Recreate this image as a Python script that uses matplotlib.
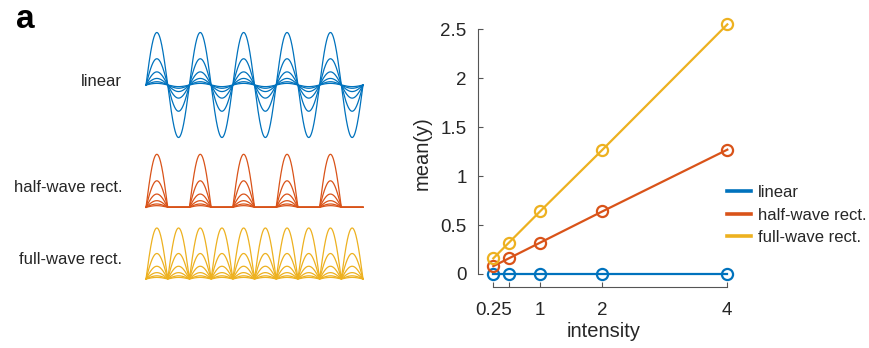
import numpy as np
import matplotlib.pyplot as plt
from matplotlib.lines import Line2D

plt.rcParams['font.family'] = ['Liberation Sans', 'DejaVu Sans']
plt.rcParams['text.color'] = '#262626'
plt.rcParams['axes.labelcolor'] = '#262626'

# colores estilo MATLAB
colores = ['#0072BD', '#D95319', '#EDB120']
nombres = ['linear', 'half-wave rect.', 'full-wave rect.']

# intensidades y media de la salida
intensity = [0.25, 0.5, 1, 2, 4]
mean_linear = [0, 0, 0, 0, 0]
mean_half = [0.08, 0.16, 0.32, 0.64, 1.27]
mean_full = [0.16, 0.32, 0.64, 1.27, 2.55]

# amplitudes de las ondas de la izquierda
amplitudes = [4, 2, 1, 0.5, 0.25, 0.125]
ciclos = 5

W, H = 870, 348
fig = plt.figure(figsize=(W / 100, H / 100), dpi=100)


def px_axes(x0, x1, y0, y1):
    # caja en pixeles (origen arriba a la izquierda)
    return fig.add_axes([x0 / W, 1 - y1 / H, (x1 - x0) / W, (y1 - y0) / H])


t = np.linspace(0, 1, 1200)
fase = 2 * np.pi * ciclos * t

# =========================
# Ondas
# =========================
cajas = [(146, 363, 32.5, 137.5, (-4, 4)),
         (146, 363, 154.3, 207.3, (0, 4)),
         (146, 363, 228, 279, (0, 4))]
for k, (x0, x1, y0, y1, lim) in enumerate(cajas):
    ax = px_axes(x0, x1, y0, y1)
    for a in amplitudes:
        y = a * np.sin(fase)
        if k == 1:
            y = np.maximum(y, 0)
        elif k == 2:
            y = np.abs(y)
        ax.plot(t, y, color=colores[k], lw=0.9, clip_on=False)
    ax.set_xlim(0, 1)
    ax.set_ylim(*lim)
    ax.axis('off')

fig.text(122 / W, 1 - 82 / H, 'linear', ha='right', va='center', fontsize=12)
fig.text(122 / W, 1 - 188 / H, 'half-wave rect.', ha='right', va='center', fontsize=12)
fig.text(122 / W, 1 - 260 / H, 'full-wave rect.', ha='right', va='center', fontsize=12)
fig.text(16 / W, 1 - 20 / H, 'a', ha='left', va='center', fontsize=24, fontweight='bold',
         color='black')

# =========================
# Media vs intensidad
# =========================
ax = px_axes(477.7, 477.7 + 4.05 * 62.4, 19.5, 287)
series = [mean_linear, mean_half, mean_full]
for serie, c, nombre in zip(series, colores, nombres):
    ax.plot(intensity, serie, '-', color=c, lw=1.6, label=nombre, zorder=2, clip_on=False)
    ax.plot(intensity, serie, 'o', mfc='none', mec=c, mew=1.6, ms=8, zorder=3, clip_on=False)

ax.set_xlim(0, 4.05)
ax.set_ylim(-0.133, 2.6)
ax.set_xticks(intensity)
ax.set_xticklabels(['0.25', '', '1', '2', '4'])
ax.set_yticks([0, 0.5, 1, 1.5, 2, 2.5])
ax.set_yticklabels(['0', '0.5', '1', '1.5', '2', '2.5'])
for lado in ['top', 'right']:
    ax.spines[lado].set_visible(False)
for lado in ['left', 'bottom']:
    ax.spines[lado].set_color('#555555')
    ax.spines[lado].set_linewidth(0.8)
ax.spines['left'].set_bounds(0, 2.5)
ax.spines['bottom'].set_bounds(0.25, 4)
ax.tick_params(axis='both', direction='in', length=3.5, width=0.8, color='#555555',
               labelsize=13.5, labelcolor='#262626')
ax.tick_params(axis='x', pad=11)
ax.tick_params(axis='y', pad=8)
ax.set_xlabel('intensity', fontsize=14.5, labelpad=2)
ax.set_ylabel('mean(y)', fontsize=14.5, labelpad=6)

handles = [Line2D([], [], color=c, lw=2.6) for c in colores]
fig.legend(handles, nombres, loc='center left', bbox_to_anchor=(727 / W, 1 - 215 / H),
           frameon=False, fontsize=12, borderpad=0, borderaxespad=0,
           handlelength=1.45, handletextpad=0.4, labelspacing=0.45)

fig.savefig('out.png', dpi=100)
